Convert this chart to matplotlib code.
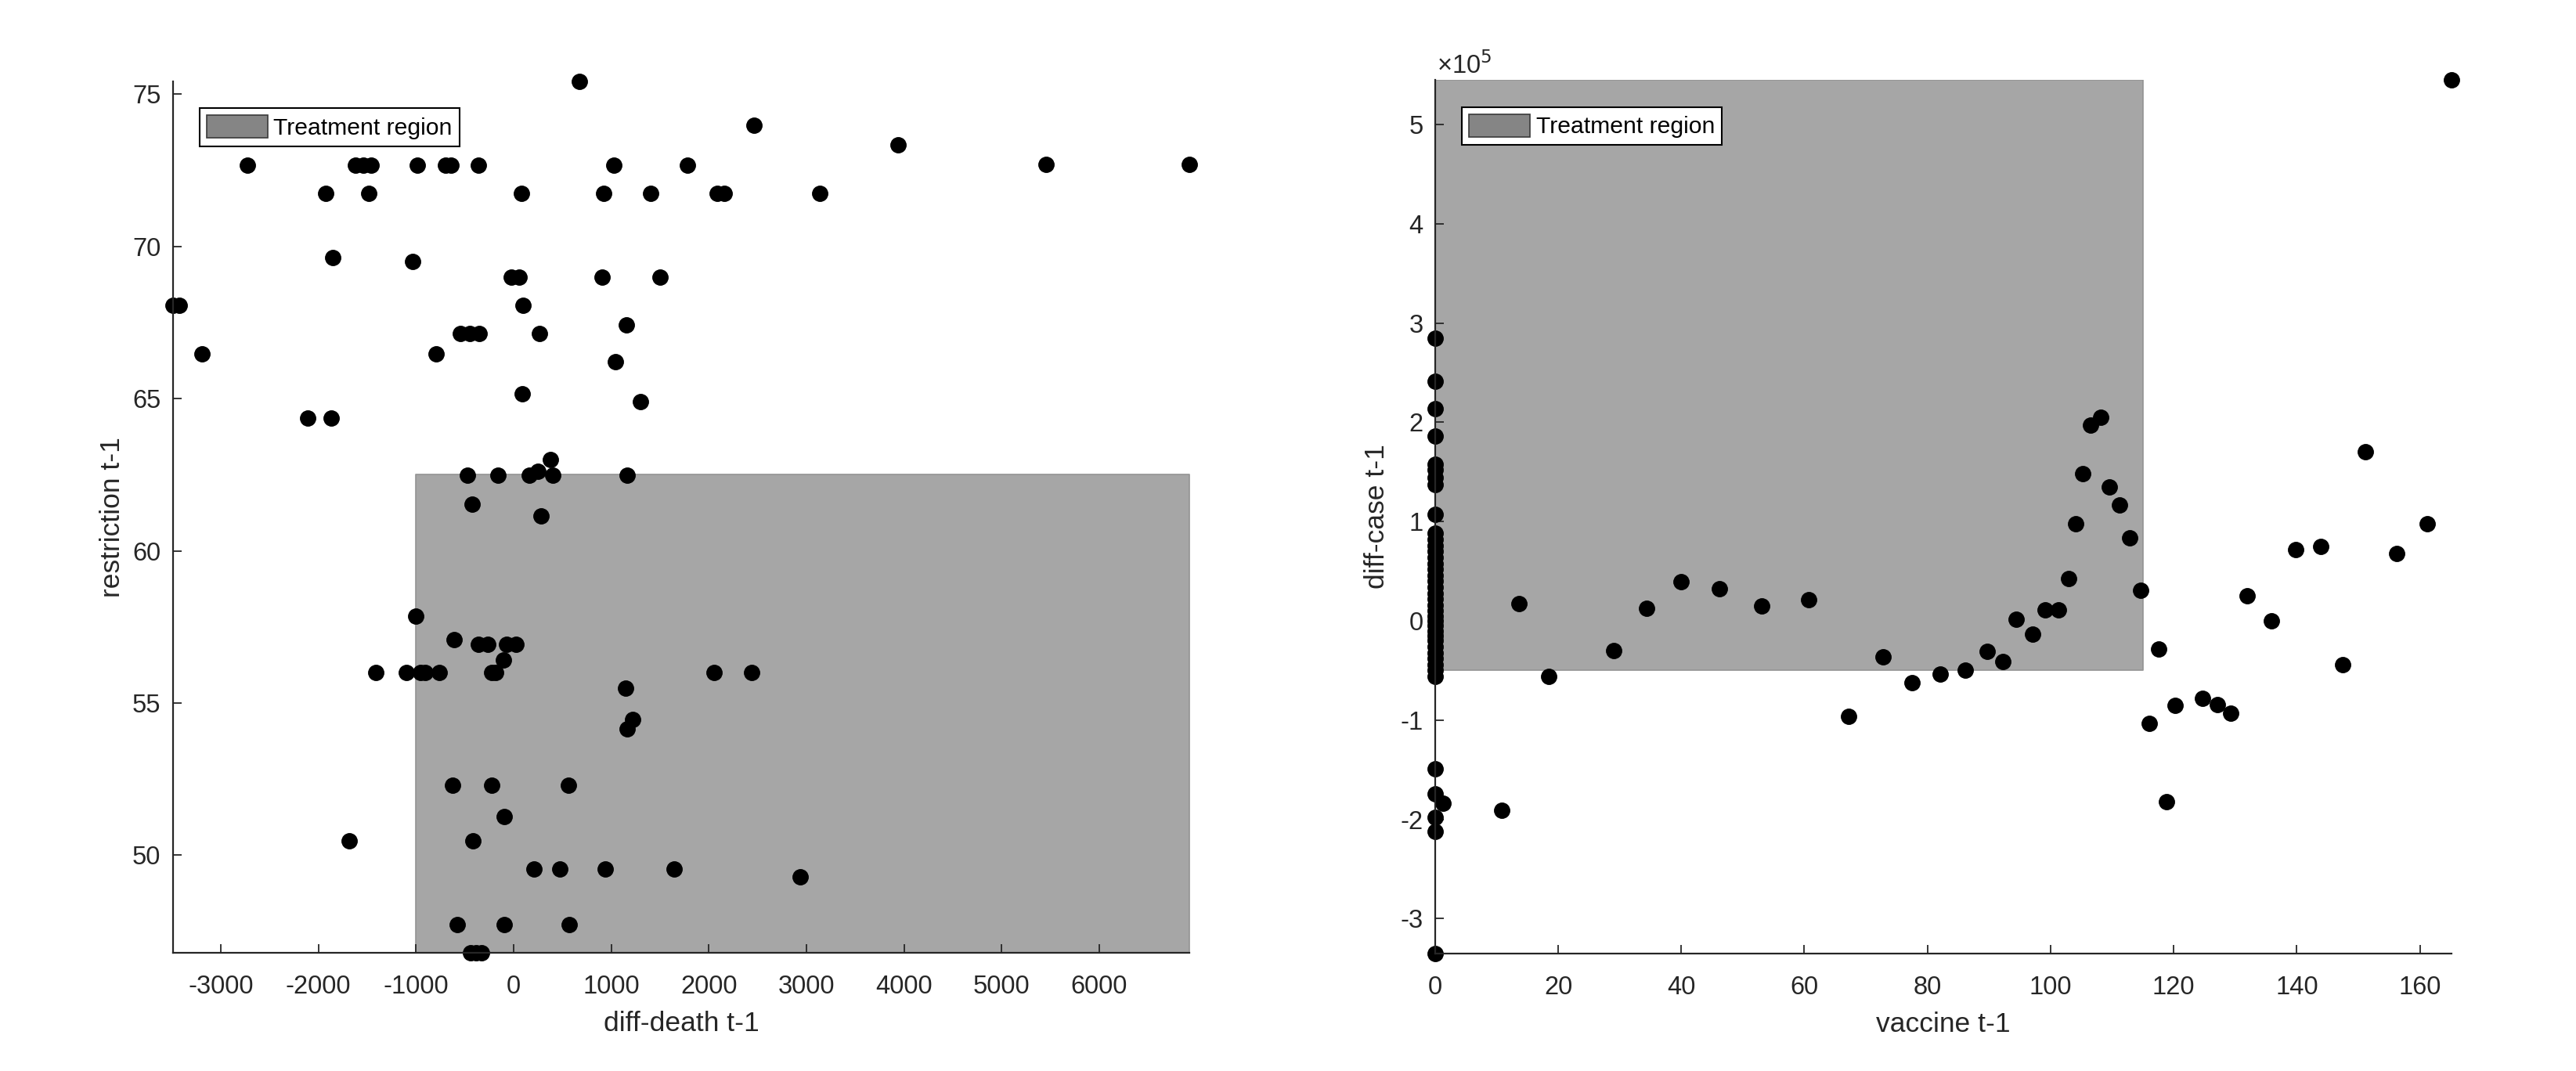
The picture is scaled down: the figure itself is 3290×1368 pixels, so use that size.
import matplotlib
matplotlib.use("Agg")
import matplotlib.pyplot as plt
from matplotlib.patches import Patch
from matplotlib.ticker import FuncFormatter, FixedLocator

plt.rcParams['font.family'] = ['Liberation Sans', 'DejaVu Sans']
plt.rcParams['axes.unicode_minus'] = False

# ---------------- Left panel data: diff-death t-1 vs restriction t-1 ----------------
death_x = [676, 2460, 3939,
           -2726, -1618, -1540, -1462, -984, -699, -644, -359, 1025, 1784, 5459, 6923,
           -1922, -1485, 83, 920, 1402, 2083, 2161, 3139,
           -1853, -1034,
           -20, 60, 910, 1503,
           -3490, -3420, 101,
           1154,
           -545, -450, -355, 267,
           -3195, -791,
           1044, 92, 1301,
           -2106, -1867,
           377,
           -474, -161, 161, 405, 1163,
           253, -428, 285,
           -998, -611,
           -360, -267, -72, 27,
           -106,
           -1411, -1100, -956, -906, -764, -224, -184, 2058, 2442,
           1149, 1223, 1163,
           -621, -225, 566,
           -97,
           -1687, -414,
           207, 474, 943, 1646,
           2933,
           -579, -97, 570,
           -440, -385, -330]
restr_y = [75.42, 73.98, 73.34,
           72.66, 72.66, 72.66, 72.66, 72.66, 72.66, 72.66, 72.66, 72.66, 72.66, 72.69, 72.69,
           71.74, 71.74, 71.74, 71.74, 71.74, 71.74, 71.74, 71.74,
           69.63, 69.51,
           68.98, 68.98, 68.98, 68.98,
           68.07, 68.07, 68.07,
           67.41,
           67.13, 67.13, 67.13, 67.13,
           66.47, 66.47,
           66.20, 65.16, 64.90,
           64.37, 64.37,
           63.00,
           62.47, 62.47, 62.47, 62.47, 62.47,
           62.60, 61.53, 61.15,
           57.85, 57.07,
           56.93, 56.93, 56.93, 56.93,
           56.41,
           56.01, 56.01, 56.01, 56.01, 56.01, 56.01, 56.01, 56.01, 56.01,
           55.49, 54.47, 54.16,
           52.31, 52.31, 52.31,
           51.26,
           50.47, 50.47,
           49.55, 49.55, 49.55, 49.55,
           49.29,
           47.72, 47.72, 47.72,
           46.80, 46.80, 46.80]
left_region_x0 = -1000
left_region_y1 = 62.5
left_xticks = [-3000, -2000, -1000, 0, 1000, 2000, 3000, 4000, 5000, 6000]
left_yticks = [50, 55, 60, 65, 70, 75]

# ---------------- Right panel data: vaccine t-1 vs diff-case t-1 ----------------
vacc_x = [0] * 40 + [
    1.3, 10.8, 13.6, 18.5, 29.0, 34.4, 40.0, 46.2, 53.1, 60.7, 67.2, 72.8, 77.5,
    82.1, 86.1, 89.7, 92.2, 94.4, 97.1, 99.1, 101.3, 102.9, 104.1, 105.2, 106.5,
    108.1, 109.5, 111.2, 112.9, 114.6, 116.0, 117.6, 118.9, 120.2, 124.7, 127.1,
    129.3, 132.0, 135.9, 139.8, 143.9, 147.5, 151.1, 156.3, 161.2, 165.2]
case_y = [284500, 241000, 213500, 186000, 158000, 152000, 144000, 137000, 107500,
          88000, 82000, 76000, 70000, 64000, 58000, 52000, 46000, 40000, 34000,
          28000, 22000, 16000, 10000, 5000, 0, -5000, -10000, -15000, -20000,
          -26000, -32000, -38000, -44000, -50000, -56000,
          -149000, -174000, -198000, -212000, -335000,
          -184000, -191000, 17100, -56000, -30000, 12600, 39400, 32000, 14900,
          21300, -96300, -36500, -62400, -53700, -50000, -30400, -40700, 1300,
          -13600, 10700, 10700, 43000, 98000, 148500, 197500, 205400, 135000,
          117000, 84000, 31000, -103000, -28000, -182000, -85000, -78000, -84000,
          -93000, 25500, 0, 72000, 74600, -44400, 170700, 68000, 98000, 545000]
right_region_x1 = 115
right_region_y0 = -50000
right_xticks = [0, 20, 40, 60, 80, 100, 120, 140, 160]
right_yticks = [-300000, -200000, -100000, 0, 100000, 200000, 300000, 400000, 500000]

region_color = '#a6a6a6'
region_edge = '#939393'
axis_color = '#262626'
TICK_FS = 23.5
LABEL_FS = 25.5
LEG_FS = 21.7

fig = plt.figure(figsize=(32.9, 13.68), dpi=100)
axL = fig.add_axes([0.0671, 0.1104, 0.3946, 0.8138])
axR = fig.add_axes([0.5571, 0.1098, 0.3947, 0.8156])


def style(ax):
    for s in ('top', 'right'):
        ax.spines[s].set_visible(False)
    for s in ('left', 'bottom'):
        ax.spines[s].set_color(axis_color)
        ax.spines[s].set_linewidth(1.6)
        ax.spines[s].set_zorder(5)
    ax.tick_params(direction='in', length=8, width=1.3, colors=axis_color,
                   labelsize=TICK_FS, labelcolor=axis_color)
    ax.tick_params(axis='x', pad=20)
    ax.tick_params(axis='y', pad=11)


def legend(ax):
    h = Patch(facecolor='#858585', edgecolor='#3a3a3a', linewidth=1.2, label='Treatment region')
    leg = ax.legend(handles=[h], loc='upper left', bbox_to_anchor=(0.026, 0.969),
                    borderaxespad=0, fontsize=LEG_FS, frameon=True, fancybox=False,
                    edgecolor='black', framealpha=1, borderpad=0.3,
                    handlelength=2.6, handleheight=1.1, handletextpad=0.25)
    leg.get_frame().set_linewidth(1.5)
    leg.set_zorder(10)


# ---- left ----
xl = (min(death_x), max(death_x))
yl = (min(restr_y), max(restr_y))
axL.set_xlim(*xl)
axL.set_ylim(*yl)
axL.fill_between([left_region_x0, xl[1]], yl[0], left_region_y1, facecolor=region_color,
                 edgecolor=region_edge, linewidth=1.2, zorder=1)
axL.plot(death_x, restr_y, 'o', color='black', markersize=14, zorder=3, clip_on=False)
axL.xaxis.set_major_locator(FixedLocator(left_xticks))
axL.yaxis.set_major_locator(FixedLocator(left_yticks))
style(axL)
axL.set_xlabel('diff-death t-1', fontsize=LABEL_FS, color=axis_color, labelpad=11)
axL.set_ylabel('restriction t-1', fontsize=LABEL_FS, color=axis_color, labelpad=6.5)
legend(axL)

# ---- right ----
xr = (min(vacc_x), max(vacc_x))
yr = (min(case_y), max(case_y))
axR.set_xlim(*xr)
axR.set_ylim(*yr)
axR.fill_between([xr[0], right_region_x1], right_region_y0, yr[1], facecolor=region_color,
                 edgecolor=region_edge, linewidth=1.2, zorder=1)
axR.plot(vacc_x, case_y, 'o', color='black', markersize=14, zorder=3, clip_on=False)
axR.xaxis.set_major_locator(FixedLocator(right_xticks))
axR.yaxis.set_major_locator(FixedLocator(right_yticks))
axR.yaxis.set_major_formatter(FuncFormatter(lambda v, p: f'{v / 1e5:g}'))
style(axR)
axR.set_xlabel('vaccine t-1', fontsize=LABEL_FS, color=axis_color, labelpad=11)
axR.set_ylabel('diff-case t-1', fontsize=LABEL_FS, color=axis_color, labelpad=9.5)
axR.text(0.002, 1.007, '\u00d710$^{5}$', transform=axR.transAxes, fontsize=TICK_FS,
         color=axis_color, ha='left', va='baseline')
legend(axR)

fig.savefig('out.png', dpi=100, facecolor='white')
